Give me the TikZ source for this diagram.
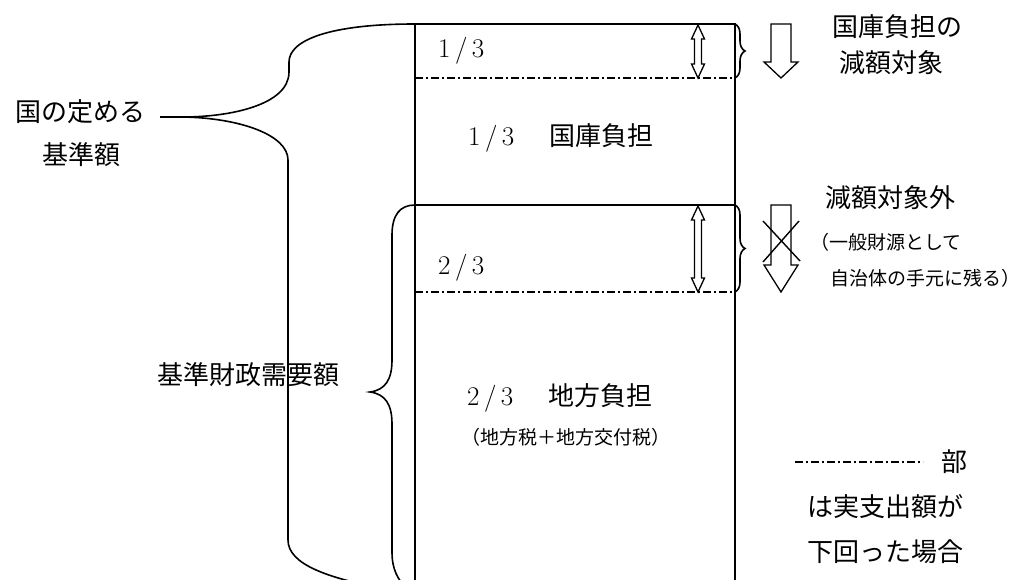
\documentclass[tikz,border=0pt]{standalone}
\usepackage{fontspec}
\newfontfamily\jp{Noto Sans CJK JP}
\usetikzlibrary{decorations.pathreplacing,calc}
\newcommand\DblArrow[3]{% x, top y, bottom y
  \draw[hollow] (#1,#2) -- ++(6.5,14) -- ++(-3,0) |- ($(#1,#3)+(3.5,-14)$) -- ++(3,0) -- (#1,#3)
    -- ++(-6.5,-14) -- ++(3,0) |- ($(#1,#2)+(-3.5,14)$) -- ++(-3,0) -- cycle;}
\newcommand\DownArrow[4]{% x center, top, head base, tip
  \draw[hollow] (#1-10,#2) -- (#1+10,#2) -- (#1+10,#3) -- (#1+17,#3) -- (#1,#4) -- (#1-17,#3) -- (#1-10,#3) -- cycle;}
\begin{document}
\begin{tikzpicture}[x=1pt,y=-1pt,
  ln/.style={line width=1.6pt},
  dd/.style={line width=1.4pt, dash pattern=on 8pt off 3pt on 2pt off 3pt},
  big/.style={font=\jp\fontsize{26}{30}\selectfont, inner sep=0},
  small/.style={font=\jp\fontsize{19}{22}\selectfont, inner sep=0},
  frac/.style={font=\fontsize{27}{30}\selectfont, inner sep=0},
  hollow/.style={draw, line width=1.3pt, fill=white, line join=miter},
  rbrace/.style={ln, decorate, decoration={brace, amplitude=10pt}},
]
\clip (0,0) rectangle (1028,580);
% box
\coordinate (TL) at (415,24);
\coordinate (TR) at (735,24);
\coordinate (ML) at (415,205);
\coordinate (MR) at (735,205);
\coordinate (BL) at (415,590);
\coordinate (BR) at (735,590);
\coordinate (D1L) at (415,78);
\coordinate (D1R) at (735,78);
\coordinate (D2L) at (415,292);
\coordinate (D2R) at (735,292);
\draw[ln] (BL) -- (TL) -- (TR) -- (BR);
\draw[ln] (ML) -- (MR);
\draw[dd] (D1L) -- (D1R);
\draw[dd] (D2L) -- (D2R);
% double arrows
\DblArrow{698}{25}{78}
\DblArrow{698}{206}{292}
% right braces
\draw[rbrace] (TR) -- (D1R);
\draw[rbrace] (MR) -- (D2R);
% hollow down arrows
\DownArrow{781}{24}{62}{78}
\DownArrow{781}{205}{265}{292}
\draw[line width=1.4pt] (763,221) -- (800,261);
\draw[line width=1.4pt] (799,221) -- (763,262);
% big brace (national standard amount)
\coordinate (T1) at (160,117);
\draw[ln] (TL) .. controls (330,24) and (289,40) .. (289,62) -- (289,72)
  .. controls (289,105) and (230,117) .. (183,117) -- (T1);
\draw[ln] (183,117) .. controls (240,118) and (288,135) .. (288,160) -- (288,540)
  .. controls (288,565) and (330,578) .. (380,588);
% inner brace
\draw[ln] (ML) .. controls (400,205) and (392,215) .. (392,235) -- (392,360)
  .. controls (392,380) and (385,390) .. (370,392)
  .. controls (385,394) and (392,404) .. (392,424) -- (392,552)
  .. controls (392,570) and (398,580) .. (408,590);
% legend line
\coordinate (L1) at (795,462);
\coordinate (L2) at (923,462);
\draw[dd] (L1) -- (L2);
% texts
\node[big] (kuni1) at (80,112) {国の定める};
\node[big] (kuni2) at (81,155) {基準額};
\node[big] (kijun) at (248,375) {基準財政需要額};
\node[frac, anchor=west] (f1) at (438,51) {1\,/\,3};
\node[frac, anchor=west] (f2) at (438,268) {2\,/\,3};
\node[frac, anchor=west] (kokko) at (468,138) {1\,/\,3\hspace{35pt}{\jp\fontsize{26}{30}\selectfont 国庫負担}};
\node[frac, anchor=west] (chiho) at (467,398) {2\,/\,3\hspace{35pt}{\jp\fontsize{26}{30}\selectfont 地方負担}};
\node[small] (zei) at (566,437) {（地方税＋地方交付税）};
\node[big] (r1) at (897,27) {国庫負担の};
\node[big] (r2) at (891,63) {減額対象};
\node[big] (r3) at (890,198) {減額対象外};
\node[small] (r4) at (886,242) {（一般財源として};
\node[small] (r5) at (925,278) {自治体の手元に残る）};
\node[big] (g1) at (954,462) {部};
\node[big] (g2) at (885,507) {は実支出額が};
\node[big] (g3) at (885,552) {下回った場合};
\end{tikzpicture}
\end{document}
